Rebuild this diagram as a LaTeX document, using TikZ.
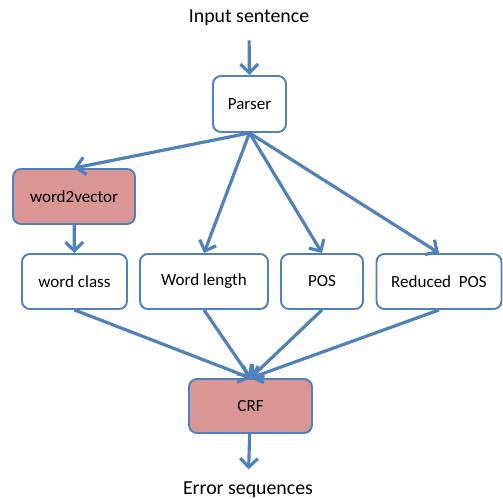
\documentclass[tikz,border=0pt]{standalone}
\usepackage{fontspec}
\setmainfont{Carlito}
\usetikzlibrary{arrows.meta}

\definecolor{boxblue}{RGB}{79,129,189}
\definecolor{boxpink}{RGB}{217,150,148}

\tikzset{
  stepbox/.style={draw=boxblue,line width=1.1pt,rounded corners=4.5pt,
    fill=white,inner sep=0pt,minimum height=1.1cm,font=\fontsize{9.7}{11}\selectfont},
  hotbox/.style={stepbox,fill=boxpink},
  flow/.style={draw=boxblue,line width=1.8pt,
    -{Straight Barb[length=5pt,width=10pt,line width=1.8pt]}},
  endtext/.style={inner sep=0pt,font=\fontsize{11.3}{13}\selectfont}
}

\begin{document}
\begin{tikzpicture}[x=0.02cm,y=-0.02cm]
\useasboundingbox (0,0) rectangle (503,499);

% input and parser
\node[endtext] (In) at (249,18) {Input sentence};
\node[stepbox,minimum width=1.46cm,minimum height=1.12cm] (Parser) at (249.5,104) {Parser};

% features
\node[hotbox,minimum width=2.44cm] (W2V) at (74,196.5) {word2vector};
\node[stepbox,minimum width=2.1cm] (Class) at (74.5,281.5) {word class};
\node[stepbox,minimum width=2.56cm] (Length) at (204,281.5) {Word length};
\node[stepbox,minimum width=1.64cm] (POS) at (322,281.5) {POS};
\node[stepbox,minimum width=2.5cm] (RPOS) at (439,281.5) {Reduced~~POS};

% output
\node[hotbox,minimum width=2.46cm,minimum height=1.08cm] (CRF) at (250.5,406) {CRF};
\node[endtext] (Out) at (248,490) {Error sequences};

\draw[flow,shorten <=8pt] (In) -- (Parser);
\foreach \f in {W2V,Length,POS,RPOS}
  \draw[flow] (Parser.south) -- (\f.north);
\draw[flow] (W2V) -- (Class);
\foreach \f in {Class,Length,POS,RPOS}
  \draw[flow] (\f.south) -- (CRF.north);
\draw[flow,shorten >=7pt] (CRF) -- (Out);

\end{tikzpicture}
\end{document}
